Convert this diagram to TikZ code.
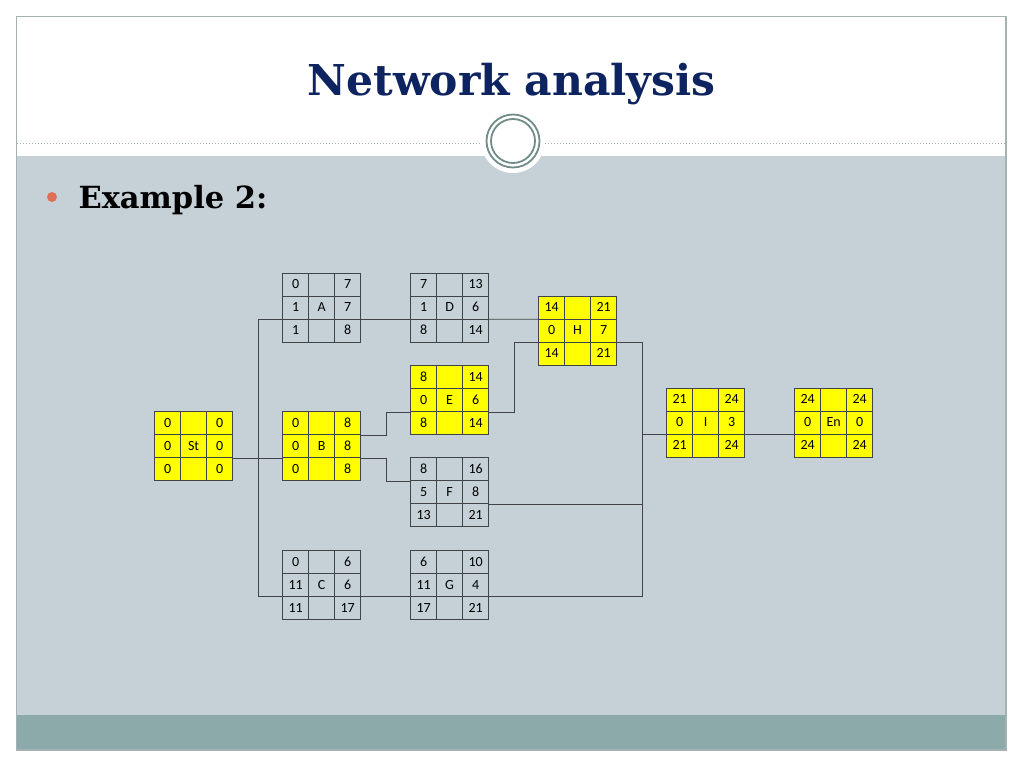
\documentclass[tikz,border=0pt]{standalone}
\usepackage{fontspec}
\setmainfont{DejaVu Serif}
\newfontfamily\cellfont{Carlito}
\usetikzlibrary{positioning,matrix}

\definecolor{slidegrey}{RGB}{197,209,215}
\definecolor{bandteal}{RGB}{139,170,169}
\definecolor{framegrey}{RGB}{165,178,178}
\definecolor{ringteal}{RGB}{112,140,136}
\definecolor{titleblue}{RGB}{14,36,96}
\definecolor{bulletred}{RGB}{221,112,84}
\definecolor{gridgrey}{RGB}{64,68,70}
\definecolor{critfill}{RGB}{255,255,0}

\begin{document}
\begin{tikzpicture}[x=1pt, y=-1pt,
		cell/.style={draw=gridgrey, line width=0.8pt, minimum width=26pt, minimum height=23pt, inner sep=0pt, anchor=center, text height=9pt, text depth=0pt, font=\cellfont\fontsize{14}{14}\selectfont},
		act/.style={matrix of nodes, nodes in empty cells, inner sep=0pt, column sep=-0.8pt, row sep=-0.8pt, nodes={cell}},
		crit/.style={act, nodes={fill=critfill}},
		link/.style={gridgrey, line width=0.8pt},
		node distance=68.5pt and 48.8pt
	]
	\useasboundingbox (0,0) rectangle (1024,768);
	% slide background
	\fill[white] (0,0) rectangle (1024,768);
	\fill[slidegrey] (17,156) rectangle (1006,715);
	\fill[bandteal] (17,715) rectangle (1006,750);
	\draw[framegrey, line width=1.5pt] (16.5,16.5) rectangle (1006,750);
	\draw[framegrey, dotted, line width=1pt] (17,143) -- (1006,143);
	\fill[white] (513,141) circle[radius=32pt];
	\draw[ringteal, line width=1.8pt] (513,141) circle[radius=26.5pt];
	\draw[ringteal, line width=1.8pt] (513,141) circle[radius=22pt];

	\node[anchor=base, font=\bfseries\fontsize{42.5}{42.5}\selectfont, text=titleblue] (title) at (511.5,95) {Network analysis};
	\node[circle, fill=bulletred, minimum size=10pt, inner sep=0pt] (bullet) at (52,197) {};
	\node[anchor=base west, font=\bfseries\fontsize{30.5}{30.5}\selectfont] (example) at (75,208) {Example 2:};

	% activities
	\matrix (St) [crit, anchor=north west] at (154,411) {0 & & 0\\ 0 & St & 0\\ 0 & & 0\\};
	\matrix (B) [crit, right=of St] {0 & & 8\\ 0 & B & 8\\ 0 & & 8\\};
	\matrix (A) [act, above=of B] {0 & & 7\\ 1 & A & 7\\ 1 & & 8\\};
	\matrix (C) [act, below=of B] {0 & & 6\\ 11 & C & 6\\ 11 & & 17\\};
	\matrix (D) [act, right=of A] {7 & & 13\\ 1 & D & 6\\ 8 & & 14\\};
	\matrix (E) [crit, right=of B, yshift=46pt] {8 & & 14\\ 0 & E & 6\\ 8 & & 14\\};
	\matrix (F) [act, right=of B, yshift=-46pt] {8 & & 16\\ 5 & F & 8\\ 13 & & 21\\};
	\matrix (G) [act, right=of C] {6 & & 10\\ 11 & G & 4\\ 17 & & 21\\};
	\matrix (H) [crit, right=of D, yshift=-23pt] {14 & & 21\\ 0 & H & 7\\ 14 & & 21\\};
	\matrix (I) [crit, right=of H, yshift=-92pt] {21 & & 24\\ 0 & I & 3\\ 21 & & 24\\};
	\matrix (En) [crit, right=of I] {24 & & 24\\ 0 & En & 0\\ 24 & & 24\\};

	% junctions
	\coordinate (jA) at ([xshift=25pt]St-2-3.south east);
	\coordinate (jF) at ([xshift=25pt]B-2-3.south east);
	\coordinate (jE) at ([xshift=25pt]B-1-3.south east);
	\coordinate (jH) at ([xshift=25pt]E-2-3.south east);
	\coordinate (jI) at ([xshift=25pt]H-2-3.south east);

	\begin{scope}[link]
	\draw (St-2-3.south east) -- (B-2-1.south west);
	\draw (jA) |- (A-2-1.south west);
	\draw (jA) |- (C-2-1.south west);
	\draw (B-2-3.south east) -- (jF) |- (F-1-1.south west);
	\draw (B-1-3.south east) -- (jE) |- (E-2-1.south west);
	\draw (A-2-3.south east) -- (D-2-1.south west);
	\draw (C-2-3.south east) -- (G-2-1.south west);
	\draw (D-2-3.south east) -- (H-1-1.south west);
	\draw (E-2-3.south east) -- (jH) |- (H-2-1.south west);
	\draw (H-2-3.south east) -- (jI) |- (I-2-1.south west);
	\draw (F-2-3.south east) -| (jI);
	\draw (G-2-3.south east) -| (jI);
	\draw (I-2-3.south east) -- (En-2-1.south west);
	\end{scope}
\end{tikzpicture}
\end{document}
